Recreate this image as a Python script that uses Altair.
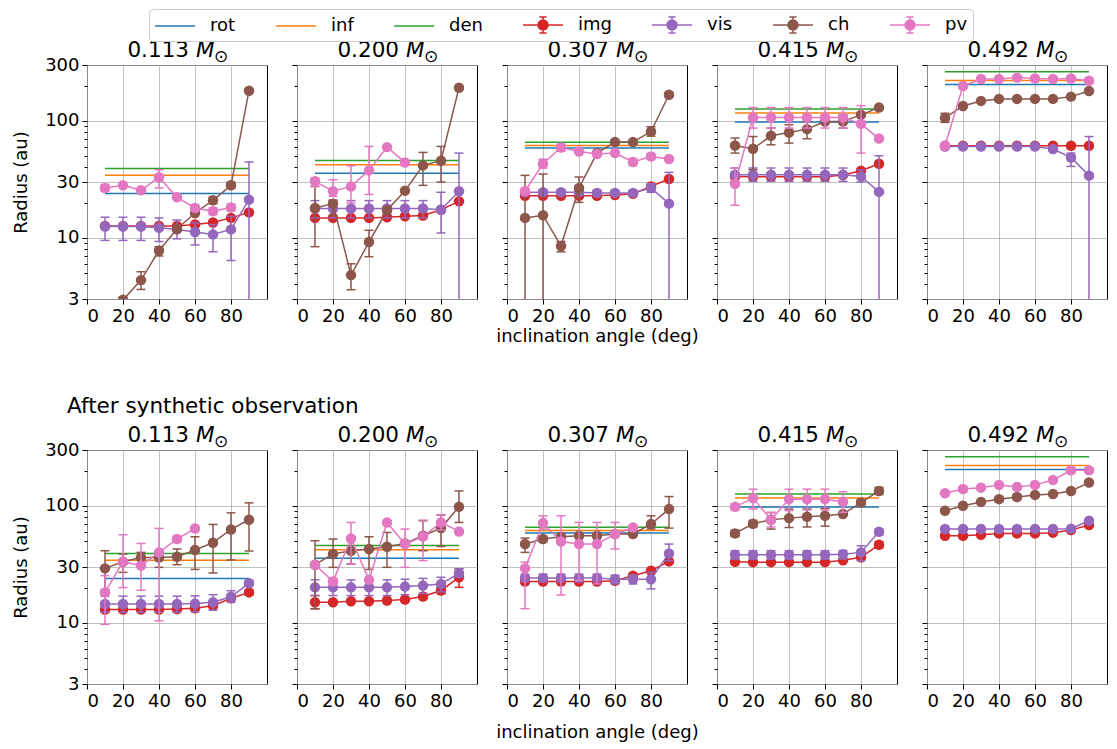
import altair as alt
import pandas as pd

N = None
FONT = "DejaVu Sans"

incl = [10, 20, 30, 40, 50, 60, 70, 80, 90]
masses = ["0.113", "0.200", "0.307", "0.415", "0.492"]
rows = ["top", "bottom"]
row_note = "After synthetic observation"
series = ["rot", "inf", "den", "img", "vis", "ch", "pv"]
colors = ["#1f77b4", "#ff7f0e", "#2ca02c", "#d62728", "#9467bd", "#8c564b", "#e377c2"]
x_ticks = [0, 20, 40, 60, 80]
y_major = [3, 10, 30, 100, 300]
y_minor = [4, 5, 6, 7, 8, 9, 20, 40, 50, 60, 70, 80, 90, 200]

# reference radii (same in both rows), one per mass
rot_r = [23.9, 35.6, 58.5, 97.5, 204]
inf_r = [34.2, 42.2, 61.5, 116.4, 221]
den_r = [39.2, 45.8, 65.6, 126.3, 263]

# ---------------- top row ----------------
top_img = [
    [12.6, 12.6, 12.6, 12.6, 12.6, 13.0, 13.5, 14.8, 16.5],
    [14.8, 14.8, 14.8, 14.8, 15.0, 15.3, 15.5, 17.4, 20.5],
    [22.9, 22.9, 22.9, 22.9, 22.9, 23.2, 23.8, 27.5, 31.8],
    [33.5, 33.2, 33.2, 33.2, 33.2, 33.2, 34.4, 37.5, 43.0],
    [61.2, 61.2, 61.2, 61.2, 61.2, 61.2, 61.2, 61.2, 61.2],
]
top_img_lo = [[N] * 9, [N] * 9, [N] * 9, [N] * 9, [N] * 9]
top_img_hi = [[N] * 9, [N] * 9, [N] * 9, [N] * 9, [N] * 9]

top_vis = [
    [12.5, 12.5, 12.5, 12.2, 11.8, 11.2, 10.7, 11.8, 21.2],
    [17.8, 17.8, 17.8, 17.8, 17.8, 17.8, 17.8, 17.4, 25.0],
    [24.5, 24.5, 24.5, 24.5, 24.2, 24.2, 24.2, 26.7, 19.6],
    [34.6, 34.6, 34.6, 34.6, 34.6, 34.6, 34.6, 33.5, 24.7],
    [60.2, 60.2, 60.2, 60.2, 60.2, 60.2, 57.4, 48.6, 34.0],
]
top_vis_lo = [
    [9.5, 9.5, 9.5, 9.3, 9.8, 8.7, 7.6, 6.4, 1.0],
    [14.8, 14.8, 14.8, 14.8, 14.8, 14.8, 14.8, 11.0, 1.0],
    [23.2, 23.2, 23.2, 23.2, 23.0, 23.0, 23.0, 24.5, 1.0],
    [30.4, 30.4, 30.4, 30.4, 30.4, 30.4, 30.4, 30.0, 1.0],
    [N, N, N, N, N, N, 55.0, 40.8, 1.0],
]
top_vis_hi = [
    [15.0, 15.0, 15.0, 14.8, 14.2, 13.4, 13.0, 15.3, 44.5],
    [20.8, 20.8, 20.8, 20.8, 20.8, 20.8, 20.8, 24.5, 53.0],
    [25.8, 25.8, 25.8, 25.8, 25.5, 25.5, 25.5, 29.0, 36.3],
    [39.5, 39.5, 39.5, 39.5, 39.5, 39.5, 39.5, 38.0, 50.3],
    [N, N, N, N, N, N, 60.0, 53.0, 73.4],
]

top_ch = [
    [1.5, 2.95, 4.35, 7.8, 11.9, 16.3, 20.9, 28.1, 181],
    [18.0, 19.6, 4.8, 9.2, 17.2, 25.3, 41.6, 45.6, 192],
    [14.8, 15.6, 8.5, 26.7, 53.0, 65.8, 65.8, 81.1, 167],
    [61.5, 57.7, 74.5, 79.5, 84.9, 98.6, 98.6, 112.5, 129.8],
    [106, 134, 148, 154, 154, 154, 154, 161, 180],
]
top_ch_lo = [
    [N, 2.8, 3.62, 7.0, N, N, 19.6, 26.5, N],
    [8.4, 15.5, 3.6, 6.9, 16.3, N, 28.1, 30.0, N],
    [1.0, 1.0, 7.6, 20.1, N, 63.0, 63.0, 74.0, 160],
    [53.0, 38.2, 62.4, 64.5, 70.3, N, 86.7, N, N],
    [97, N, N, N, N, N, N, N, N],
]
top_ch_hi = [
    [N, 3.1, 5.13, 8.4, N, N, 22.4, 29.8, N],
    [27.5, 21.0, 6.0, 11.6, 18.2, N, 53.7, 60.4, N],
    [34.2, 35.1, 9.3, 33.1, N, 69.0, 69.0, 89.0, 175],
    [71.2, 73.4, 86.7, 92.5, 98.6, N, 112.5, N, N],
    [116, N, N, N, N, N, N, N, N],
]

top_pv = [
    [26.7, 28.1, 25.5, 32.9, 22.2, 18.0, 16.9, 18.2, N],
    [30.4, 25.0, 27.5, 37.7, 59.6, 44.1, N, N, N],
    [25.0, 43.0, 59.2, 54.7, 52.0, 53.0, 44.5, 49.6, 47.2],
    [29.0, 106.7, 106.7, 106.7, 106.7, 106.7, 106.7, 94.2, 70.5],
    [61.2, 198.6, 228, 228, 234, 230, 228, 230, 220],
]
top_pv_lo = [
    [25.0, N, N, 26.7, N, 16.9, 15.8, 17.0, N],
    [27.5, 22.6, 19.9, 23.5, N, N, N, N, N],
    [23.5, 39.5, 55.0, N, N, N, 41.5, 47.0, N],
    [19.0, 86.7, 86.7, 86.7, 86.7, 86.7, 86.7, 53.0, N],
    [N, 190, N, N, N, N, N, N, 210],
]
top_pv_hi = [
    [28.5, N, N, 38.2, N, 19.2, 18.0, 19.4, N],
    [32.5, 31.4, 41.3, 60.4, N, N, N, N, N],
    [26.5, 47.0, 63.0, N, N, N, 47.5, 52.5, N],
    [39.5, 129.8, 129.8, 129.8, 129.8, 129.8, 129.8, 134.9, N],
    [N, 207, N, N, N, N, N, N, 232],
]

# ---------------- bottom row (after synthetic observation) ----------------
bot_img = [
    [13.0, 13.0, 13.0, 13.0, 13.1, 13.3, 14.0, 16.2, 18.2],
    [15.0, 15.0, 15.3, 15.3, 15.5, 15.8, 16.8, 18.9, 24.5],
    [22.5, 22.5, 22.5, 22.5, 22.5, 22.9, 25.3, 27.9, 33.5],
    [33.3, 33.0, 33.0, 33.0, 33.0, 33.0, 34.2, 36.3, 46.5],
    [55.5, 55.5, 56.5, 58.1, 58.1, 58.1, 59.0, 62.1, 68.4],
]
bot_img_lo = [
    [N, N, N, N, N, N, N, N, 17.2],
    [13.2, N, N, N, N, N, N, 17.8, 20.1],
    [N] * 9,
    [N, N, N, N, N, N, N, N, 43.5],
    [N] * 9,
]
bot_img_hi = [
    [N, N, N, N, N, N, N, N, 19.2],
    [17.1, N, N, N, N, N, N, 20.0, 29.0],
    [N] * 9,
    [N, N, N, N, N, N, N, N, 49.5],
    [N] * 9,
]

bot_vis = [
    [14.5, 14.5, 14.5, 14.5, 14.5, 14.6, 15.0, 16.7, 21.8],
    [20.1, 20.1, 20.1, 20.1, 20.1, 20.4, 20.8, 21.5, 26.5],
    [24.2, 24.2, 24.2, 24.2, 24.2, 23.6, 23.6, 23.6, 39.2],
    [38.2, 38.2, 38.2, 38.2, 38.2, 38.2, 38.5, 40.0, 60.0],
    [63.3, 63.3, 63.3, 63.3, 63.3, 63.3, 63.3, 63.8, 74.5],
]
bot_vis_lo = [
    [12.3, 12.3, 12.3, 12.3, 12.3, 12.4, 12.8, 15.0, 20.6],
    [17.1, 17.1, 17.1, 17.1, 17.1, 17.4, 17.8, 18.4, 24.5],
    [22.5, 22.5, 22.5, 22.5, 22.5, 21.5, 21.5, 19.5, 34.0],
    [35.1, 35.1, 35.1, 35.1, 35.1, 35.1, 35.1, 34.0, 56.5],
    [N] * 9,
]
bot_vis_hi = [
    [16.9, 16.9, 16.9, 16.9, 16.9, 17.0, 17.4, 18.8, 23.0],
    [23.3, 23.3, 23.3, 23.3, 23.3, 23.6, 24.0, 24.5, 29.0],
    [26.0, 26.0, 26.0, 26.0, 26.0, 25.5, 25.5, 27.0, 47.1],
    [41.3, 41.3, 41.3, 41.3, 41.3, 41.3, 41.5, 45.6, 63.5],
    [N] * 9,
]

bot_ch = [
    [29.2, 33.3, 36.1, 36.1, 36.7, 41.9, 48.4, 62.8, 76.0],
    [31.4, 38.7, 41.3, 42.8, 44.7, 47.7, 55.5, 64.5, 98.0],
    [47.1, 52.0, 54.4, 55.5, 55.5, 57.4, 57.4, 69.8, 93.8],
    [58.1, 70.3, 76.0, 78.5, 80.6, 82.2, 85.0, 106.7, 134],
    [90.6, 100, 108, 114, 119, 124, 126, 134, 158],
]
bot_ch_lo = [
    [19.2, 27.0, 31.8, 29.8, 31.4, 28.6, 26.7, 34.5, 41.1],
    [13.2, 29.8, 31.8, 28.6, 29.8, N, 41.3, 45.0, 72.1],
    [40.0, 49.0, N, N, N, N, N, 63.3, 64.5],
    [54.5, 66.0, 63.3, 65.3, 66.0, 67.0, N, 100, 125],
    [N, N, N, 108, 113, N, N, N, N],
]
bot_ch_hi = [
    [41.3, 38.7, 40.0, 41.3, 42.8, 54.4, 69.3, 87.1, 106],
    [50.3, 52.0, 53.7, 54.4, 59.2, N, 74.5, 83.4, 134],
    [53.0, 55.0, N, N, N, N, N, 82.2, 120],
    [62.0, 75.0, 87.7, 93.8, 94.0, 95.0, N, 113, 144],
    [N, N, N, 120, 125, N, N, N, N],
]

bot_pv = [
    [18.2, 33.3, 30.8, 40.0, 52.0, 64.1, N, N, N],
    [31.4, 22.6, 52.6, 23.3, 72.1, 47.1, 54.7, 72.1, 60.4],
    [29.2, 71.2, 49.6, 47.1, 47.1, 57.4, 65.3, N, N],
    [98.0, 116.4, 76.0, 114, 114, 114, 108, N, N],
    [128, 139, 143, 151, 145, 151, 166, 201, 201],
]
bot_pv_lo = [
    [9.7, 20.0, 19.0, 10.4, 49.0, N, N, N, N],
    [N, 21.0, 31.8, N, N, 29.8, 34.0, 62.0, N],
    [13.2, 63.3, 17.3, 23.0, 21.5, 42.8, N, N, N],
    [92.0, 93.8, 66.0, 91.0, 92.0, 92.0, 88.0, N, N],
    [N, 132, N, N, N, N, N, 190, 190],
]
bot_pv_hi = [
    [25.3, 56.6, 47.7, 64.1, 55.0, N, N, N, N],
    [N, 24.0, 72.1, N, N, 63.3, 75.5, 83.4, N],
    [33.0, 82.2, 82.2, 72.1, 72.1, 72.1, N, N, N],
    [104, 138.8, 87.7, 138.8, 138.8, 138.8, 132, N, N],
    [N, 146, N, N, N, N, N, 212, 212],
]

# ---------------- tables ----------------
row_data = {
    "top": {
        "img": (top_img, top_img_lo, top_img_hi),
        "vis": (top_vis, top_vis_lo, top_vis_hi),
        "ch": (top_ch, top_ch_lo, top_ch_hi),
        "pv": (top_pv, top_pv_lo, top_pv_hi),
    },
    "bottom": {
        "img": (bot_img, bot_img_lo, bot_img_hi),
        "vis": (bot_vis, bot_vis_lo, bot_vis_hi),
        "ch": (bot_ch, bot_ch_lo, bot_ch_hi),
        "pv": (bot_pv, bot_pv_lo, bot_pv_hi),
    },
}

pts, errs, refs = [], [], []
for row in rows:
    for mi, m in enumerate(masses):
        for s, rr in (("rot", rot_r), ("inf", inf_r), ("den", den_r)):
            refs.append({"row": row, "mass": m, "series": s, "r": rr[mi],
                         "x0": incl[0], "x1": incl[-1]})
        for s, (vals, los, his) in row_data[row].items():
            for k, x in enumerate(incl):
                v = vals[mi][k]
                if v is not None:
                    pts.append({"row": row, "mass": m, "series": s, "incl": x, "val": v})
                lo, hi = los[mi][k], his[mi][k]
                if lo is not None and hi is not None:
                    errs.append({"row": row, "mass": m, "series": s, "incl": x, "lo": lo, "hi": hi})

pts_df = pd.DataFrame(pts)
err_df = pd.DataFrame(errs)
ref_df = pd.DataFrame(refs)
title_df = pd.DataFrame({"mass": masses})
legend_df = pd.DataFrame({"series": series})

# legend glyphs: plain line for reference radii, errorbar glyph for measured radii
LINE_GLYPH = "M-1,0L3,0"
EB_GLYPH = ("M-1,0L3,0M1,-0.8L1,0.8M0.64,-0.8L1.36,-0.8M0.64,0.8L1.36,0.8"
            "M1.5,0A0.5,0.5 0 1,1 0.5,0A0.5,0.5 0 1,1 1.5,0Z")
glyphs = [LINE_GLYPH] * 3 + [EB_GLYPH] * 4

W, H = 180, 234
xscale = alt.Scale(domain=[0, 100], nice=False, zero=False)
yscale = alt.Scale(type="log", domain=[3, 300], nice=False)


def panel(ri, mi):
    row, m = rows[ri], masses[mi]
    flt = (alt.datum.row == row) & (alt.datum.mass == m)
    first = mi == 0
    x_axis = alt.Axis(values=x_ticks, grid=True, format="d",
                      title="inclination angle (deg)" if mi == 2 else None,
                      titlePadding=2 if ri == 0 else 13)
    y_axis = alt.Axis(values=y_major, grid=True, format="d", labels=first,
                      title="Radius (au)" if first else None, titlePadding=14)
    y_minor_axis = alt.Axis(values=y_minor, grid=False, labels=False, tickSize=3,
                            orient="left", title=None)
    # every layer carries the same x axis so that Vega-Lite merges them into one
    X = lambda f: alt.X(f, scale=xscale, axis=x_axis)
    Y = lambda f: alt.Y(f, scale=yscale, axis=None)

    layers = []
    layers.append(
        alt.Chart(ref_df).transform_filter(flt).mark_rule(strokeWidth=1.5).encode(
            x=X("x0:Q"), x2="x1:Q",
            y=alt.Y("r:Q", scale=yscale, axis=y_axis),
            color=alt.Color("series:N", scale=alt.Scale(domain=series[:3], range=colors[:3]),
                            legend=None),
        )
    )
    layers.append(
        alt.Chart(ref_df).transform_filter(flt).mark_rule(opacity=0).encode(
            x=X("x0:Q"), x2="x1:Q",
            y=alt.Y("r:Q", scale=yscale, axis=y_minor_axis),
        )
    )
    for s in ["img", "vis", "ch", "pv"]:
        c = colors[series.index(s)]
        f2 = flt & (alt.datum.series == s)
        e = alt.Chart(err_df).transform_filter(f2)
        layers.append(e.mark_rule(color=c, strokeWidth=1.5, clip=True).encode(
            x=X("incl:Q"), y=Y("lo:Q"), y2="hi:Q"))
        for f in ("lo:Q", "hi:Q"):
            layers.append(e.mark_tick(color=c, orient="horizontal", size=9, thickness=1.5,
                                      clip=True, opacity=1).encode(x=X("incl:Q"), y=Y(f)))
        p = alt.Chart(pts_df).transform_filter(f2)
        layers.append(p.mark_line(color=c, strokeWidth=1.5, clip=True).encode(
            x=X("incl:Q"), y=Y("val:Q")))
        layers.append(p.mark_point(color=c, filled=True, opacity=1, size=110, clip=True).encode(
            x=X("incl:Q"), y=Y("val:Q")))

    t = alt.Chart(title_df).transform_filter(alt.datum.mass == m)
    layers.append(t.mark_text(align="right", baseline="alphabetic", fontSize=21.5, font=FONT,
                              color="black").encode(text="mass:N", x=alt.value(102), y=alt.value(-8)))
    layers.append(t.mark_text(align="left", baseline="alphabetic", fontSize=21.5, font=FONT,
                              fontStyle="italic", color="black").encode(
        text=alt.value("M"), x=alt.value(109), y=alt.value(-8)))
    layers.append(t.mark_text(align="left", baseline="alphabetic", fontSize=17, font=FONT,
                              color="black").encode(
        text=alt.value("\u2299"), x=alt.value(127), y=alt.value(-3)))

    if ri == 1 and mi == 0:
        layers.append(t.mark_text(align="left", baseline="alphabetic", fontSize=21.5, font=FONT,
                                  color="black").encode(
            text=alt.value(row_note), x=alt.value(-20), y=alt.value(-37)))

    if ri == 0 and mi == 0:
        leg = alt.Legend(orient="none", legendX=62, legendY=-56, direction="horizontal",
                         title=None, labelFont=FONT, labelFontSize=18, labelColor="black",
                         symbolSize=400, symbolStrokeWidth=1.5, symbolOpacity=1,
                         labelOffset=34, columnPadding=37, padding=5, strokeColor="#cccccc",
                         fillColor="white", cornerRadius=4)
        cs = alt.Scale(domain=series, range=colors)
        layers.append(
            alt.Chart(legend_df).transform_filter("false").mark_point(filled=True, opacity=1).encode(
                fill=alt.Fill("series:N", scale=cs, legend=leg),
                stroke=alt.Stroke("series:N", scale=cs, legend=leg),
                shape=alt.Shape("series:N", scale=alt.Scale(domain=series, range=glyphs), legend=leg),
            )
        )

    return alt.layer(*layers).resolve_axis(y="independent").properties(width=W, height=H)


panels = [panel(ri, mi) for ri in range(2) for mi in range(5)]

chart = alt.concat(*panels, columns=5, spacing=alt.RowColnumber(row=151, column=30),
                   bounds="flush").properties(
    padding={"left": 4, "top": 0, "right": 0, "bottom": 0}
).configure_axis(
    labelFont=FONT, labelFontSize=18, labelColor="black",
    titleFont=FONT, titleFontSize=18, titleFontWeight="normal", titleColor="black",
    tickColor="black", tickWidth=1, tickSize=5, domain=False,
    gridColor="#b0b0b0", gridWidth=0.8, labelPadding=3,
).configure_view(stroke="black", strokeWidth=1)

chart.save("out.html", embed_options={"renderer": "svg", "actions": False})
